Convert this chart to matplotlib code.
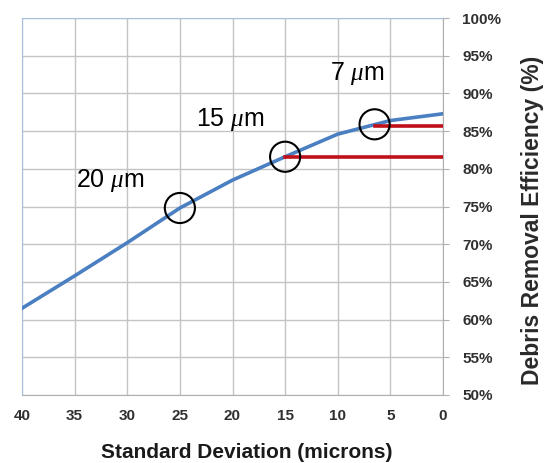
"""
Debris removal efficiency vs. standard deviation of particle size.
"""

import matplotlib

matplotlib.use("Agg")
import matplotlib.pyplot as plt
from matplotlib.ticker import FuncFormatter

plt.rcParams["font.family"] = ["Liberation Sans", "DejaVu Sans"]
plt.rcParams["mathtext.fontset"] = "custom"
plt.rcParams["mathtext.it"] = "Liberation Serif:italic"

# curve: standard deviation (microns) -> efficiency (%)
std_dev = [40, 35, 30, 25, 20, 15, 10, 5, 0]
efficiency = [61.5, 65.8, 70.2, 74.8, 78.5, 81.6, 84.6, 86.4, 87.3]

# marked points and their labels
mark_x = [25, 15, 6.5]
mark_y = [74.8, 81.6, 85.9]
mark_labels = ["20 $\\mu$m", "15 $\\mu$m", "7 $\\mu$m"]
label_x = [31.6, 20.2, 8.1]
label_y = [78.4, 86.5, 92.7]

# red reference lines (start x, level)
ref_start = [15, 6.5]
ref_level = [81.5, 85.7]

BLUE = "#4a7fc1"
RED = "#c0101a"
GRID = "#c4c4c4"
W, H = 549, 463

fig = plt.figure(figsize=(W / 100, H / 100), dpi=100)
ax = fig.add_axes([22 / W, 1 - 395 / H, 421 / W, 377 / H])

ax.plot(std_dev, efficiency, color=BLUE, lw=2.6, zorder=3)
for x0, lvl in zip(ref_start, ref_level):
    ax.plot([x0, 0], [lvl, lvl], color=RED, lw=2.6, zorder=4)
ax.scatter(mark_x, mark_y, s=470, facecolors="none", edgecolors="black",
           linewidths=1.5, zorder=5)
for tx, ty, lab in zip(label_x, label_y, mark_labels):
    ax.text(tx, ty, lab, fontsize=18, ha="center", va="center", zorder=6)

ax.set_xlim(40, 0)
ax.set_ylim(50, 100)
ax.set_xticks(range(40, -1, -5))
ax.set_yticks(range(50, 101, 5))
ax.yaxis.set_major_formatter(FuncFormatter(lambda v, _: f"{v:.0f}%"))
ax.yaxis.tick_right()

ax.grid(True, color=GRID, lw=1.0)
ax.set_axisbelow(True)
for side in ["left", "top"]:
    ax.spines[side].set_color("#a8c0e0")
for side in ["right", "bottom"]:
    ax.spines[side].set_color("#b0b0b0")

ax.tick_params(axis="y", length=4, color="#b0b0b0", labelsize=11,
               labelcolor="#303030", pad=10)
ax.tick_params(axis="x", length=0, labelsize=11, labelcolor="#303030", pad=10)
for lab in ax.get_xticklabels() + ax.get_yticklabels():
    lab.set_fontweight("bold")

fig.text(247 / W, 1 - 453 / H, "Standard Deviation (microns)", fontsize=15,
         fontweight="bold", ha="center", va="center", color="#1a1a1a")
fig.text(533 / W, 1 - 220 / H, "Debris Removal Efficiency (%)", fontsize=16.5,
         fontweight="bold", rotation=90, ha="center", va="center",
         color="#2a2a2a")

fig.savefig("out.png", dpi=100)
